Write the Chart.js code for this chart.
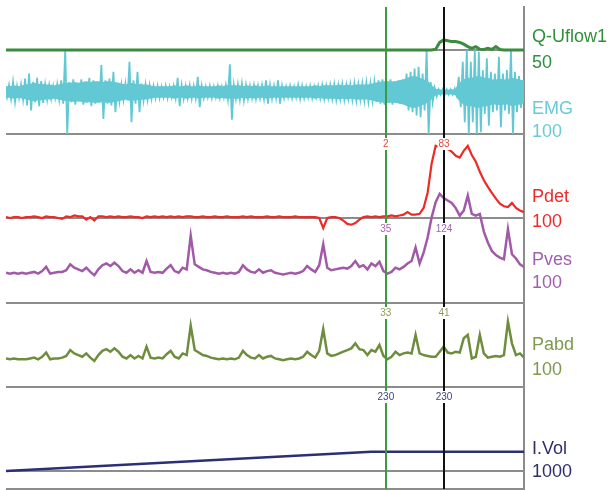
<!DOCTYPE html>
<html>
<head>
<meta charset="utf-8">
<script src="https://cdn.jsdelivr.net/npm/chart.js@4.4.1/dist/chart.umd.min.js"></script>
<style>
    html, body { margin: 0; padding: 0; background: #fff; }
    canvas { display: block; }
</style>
</head>
<body>
<canvas id="trace" width="610" height="490"></canvas>
<script>
// One sample every ~4 px across the trace (130 samples, index 0..129)
const flow = [
    0,0,0,0,0,0,0,0,0,0, 0,0,0,0,0,0,0,0,0,0, 0,0,0,0,0,0,0,0,0,0,
    0,0,0,0,0,0,0,0,0,0, 0,0,0,0,0,0,0,0,0,0, 0,0,0,0,0,0,0,0,0,0,
    0,0,0,0,0,0,0,0,0,0, 0,0,0,0,0,0,0,0,0,0, 0,0,0,0,0,0,0,0,0,0,
    0,0,0,0,0,0,0,0,0,0, 0,0,0,0,0,0,0,0.5,4.5,6,
    5.5,5,5,4.5,3.5,2,1,2,0.5,0.3, 1,0.3,2,0.3,0,0,0,0,0,0
];

// EMG: steady band half-height, and the spike height in each sample
const emgBand = [
    6,6,7,6,7,8,9,10,9,9, 8,8,7,8,9,10,10,11,10,11,
    12,11,12,12,11,12,12,11,10,9, 8,10,9,9,8,8,7,6,6,6,
    6,6,7,6,6,7,6,6,7,6, 6,6,6,7,6,7,7,7,7,6,
    7,6,7,6,6,7,6,6,6,6, 6,6,6,6,6,6,6,7,6,7,
    7,7,7,8,7,8,7,8,8,8, 8,9,10,11,12,12,12,12,13,14,
    16,18,18,16,14,12,7,3,2,2, 2,2,3,10,14,16,16,18,18,16,
    16,14,14,15,14,14,16,15,14,12
];
const emgAmp = [
    6,8,12,7,9,16,22,12,17,13, 9,8,7,9,14,50,12,15,11,15,
    12,17,14,12,32,14,16,24,11,9, 10,36,14,24,10,9,8,7,7,6,
    7,6,7,17,8,7,8,7,18,7, 6,7,6,7,6,8,33,8,9,10,
    8,7,8,7,8,14,8,7,14,7, 6,7,6,8,7,6,7,6,7,8,
    7,8,9,8,9,8,9,10,9,10, 11,10,12,14,15,13,15,12,14,15,
    22,24,28,30,22,50,12,5,3,3, 3,3,4,18,36,50,36,50,48,26,
    40,24,22,42,22,26,50,24,19,14
];

const pdet = [
    1,0,1,1,0,1,1,2,1,0, 2,1,1,0,-1,2,1,3,2,2,
    -2,1,-3,2,2,1,2,1,2,1, 1,2,1,1,0,2,1,2,1,2,
    1,2,1,2,1,2,2,1,1,2, 1,1,2,1,1,2,1,1,1,2,
    1,2,1,1,1,2,1,1,2,1, 1,1,2,1,1,1,1,1,0,-12,
    0,1,1,0,-3,-7,-8,-6,-2,1, 2,1,2,1,2,2,3,2,3,4,
    7,4,4,5,12,30,65,86,84,83, 82,79,74,72,80,86,75,67,55,45,
    37,30,23,17,14,13,18,12,9,7
];

const pves = [
    36,35,36,35,36,35,36,37,35,38, 43,35,36,37,37,39,46,42,40,38,
    42,37,33,40,45,47,44,48,44,38, 36,40,36,39,36,50,37,36,37,36,
    41,45,38,36,42,40,80,46,43,40, 39,37,36,35,36,35,36,35,37,45,
    40,37,36,40,36,38,39,36,35,34, 35,36,35,36,38,44,40,37,45,70,
    42,39,40,41,42,41,44,50,43,45, 40,47,44,49,38,35,37,42,40,43,
    47,50,66,47,60,78,102,120,130,125, 122,119,113,104,110,128,106,104,106,85,
    72,62,57,54,52,88,58,53,46,43
];

const pabd = [
    34,33,34,33,33,33,34,35,33,36, 41,33,34,34,35,37,44,40,38,36,
    40,35,31,38,43,45,42,46,42,36, 34,38,34,37,34,48,35,34,35,34,
    39,43,36,34,40,38,73,44,41,38, 37,35,34,33,34,33,34,33,35,43,
    38,35,34,38,34,36,37,34,33,32, 33,34,33,34,36,42,38,35,43,69,
    40,37,38,40,42,44,46,52,45,44, 38,44,42,50,37,33,36,42,38,40,
    41,40,62,40,38,37,36,36,42,48, 41,40,42,41,58,62,34,36,62,40,
    35,36,37,36,38,78,52,38,40,35
];

// Infused volume: straight fill then held
const volTimes  = [0, 91, 129];
const volValues = [0, 230, 230];

// Cursor positions (sample index) and the readouts printed at them
const cursorTimes = [94.6, 109.1];
const pdetAtCursor = ['2', '83'];
const pvesAtCursor = ['35', '124'];
const pabdAtCursor = ['33', '41'];
const volAtCursor  = ['230', '230'];

const channelNames  = ['Q-Uflow1', 'EMG', 'Pdet', 'Pves', 'Pabd', 'I.Vol'];
const channelRanges = ['50', '100', '100', '100', '100', '1000'];

const COLORS = {
    flow: '#3a8c3e',
    emg:  '#62c8d4',
    pdet: '#ee2a26',
    pves: '#a05aa8',
    pabd: '#6e8e3e',
    vol:  '#2b2f78',
    grid: '#8c8c8c'
};
const labelColors = ['#2f8f3a', '#6ccad6', '#ee2a2a', '#a062ad', '#7d9a4e', '#2d2f6b'];
const labelRows   = [[37, 63], [109, 132], [197, 222], [260, 283], [345, 370], [449, 472]];

const AREA_TOP = 7, AREA_BOTTOM = 489, PANEL = 84;

// each channel gets its own axis, placed so its zero sits at zeroPx
function channelAxis(zeroPx, fullScale, gridValues) {
    const perUnit = PANEL / fullScale;
    return {
        type: 'linear',
        position: 'left',
        min: -(AREA_BOTTOM - zeroPx) / perUnit,
        max: (zeroPx - AREA_TOP) / perUnit,
        ticks: { display: false },
        border: { display: false },
        grid: {
            display: gridValues.length > 0,
            drawTicks: false,
            color: COLORS.grid,
            lineWidth: 2
        },
        afterBuildTicks: s => { s.ticks = gridValues.map(v => ({ value: v })); }
    };
}

const toPoints = arr => arr.map((v, i) => ({ x: i, y: v }));

// EMG band: upper and lower envelope, filled between
const bandUpper = emgBand.map((a, i) => ({ x: i, y: a }));
const bandLower = emgBand.map((a, i) => ({ x: i, y: -a }));
// spikes: swing from +peak to -peak inside each sample
const emgSpikes = emgAmp.flatMap((a, i) => [
    { x: i - 0.25, y: a },
    { x: i + 0.25, y: -a }
]);

const line = (data, color, axis, width) => ({
    data,
    yAxisID: axis,
    borderColor: color,
    borderWidth: width || 2,
    pointRadius: 0,
    tension: 0,
    fill: false
});

const readoutPlugin = {
    id: 'readouts',
    afterDraw(chart) {
        const ctx = chart.ctx;
        const right = chart.chartArea.right;
        ctx.save();
        ctx.textBaseline = 'middle';

        ctx.font = '18px "Liberation Sans", Arial, sans-serif';
        ctx.textAlign = 'left';
        channelNames.forEach((name, k) => {
            ctx.fillStyle = labelColors[k];
            ctx.fillText(name, right + 8, labelRows[k][0]);
            ctx.fillText(channelRanges[k], right + 8, labelRows[k][1]);
        });

        ctx.font = '10px "Liberation Sans", Arial, sans-serif';
        ctx.textAlign = 'center';
        const rows = [
            [pdetAtCursor, 144, '#e8463f'],
            [pvesAtCursor, 229, '#a464b0'],
            [pabdAtCursor, 313, '#8a9c5a'],
            [volAtCursor, 397, '#3b3e8e']
        ];
        rows.forEach(([texts, y, color]) => {
            texts.forEach((t, k) => {
                const x = chart.scales.x.getPixelForValue(cursorTimes[k]);
                const w = ctx.measureText(t).width + 2;
                ctx.fillStyle = '#fff';
                ctx.fillRect(x - w / 2, y - 6, w, 12);
                ctx.fillStyle = color;
                ctx.fillText(t, x, y);
            });
        });
        ctx.restore();
    }
};

const xMax = flow.length - 1;
const cursorColors = ['#3e9a3e', '#111111'];

const emgTop = line(bandUpper, COLORS.emg, 'yEmg', 1.5);
emgTop.fill = '+1';
emgTop.backgroundColor = COLORS.emg;
const emgBottom = line(bandLower, COLORS.emg, 'yEmg', 1.5);

new Chart(document.getElementById('trace'), {
    type: 'line',
    data: {
        datasets: [
            line(toPoints(flow), COLORS.flow, 'yFlow', 3),
            line(emgSpikes, COLORS.emg, 'yEmg', 1.8),
            emgTop,
            emgBottom,
            line(toPoints(pdet), COLORS.pdet, 'yPdet', 2.2),
            line(toPoints(pves), COLORS.pves, 'yPves', 2.5),
            line(toPoints(pabd), COLORS.pabd, 'yPabd', 2.5),
            line(volTimes.map((t, i) => ({ x: t, y: volValues[i] })), COLORS.vol, 'yVol', 2.5)
        ]
    },
    options: {
        responsive: false,
        animation: false,
        layout: { padding: { left: 6, right: 86, top: AREA_TOP, bottom: 490 - AREA_BOTTOM } },
        plugins: { legend: { display: false }, tooltip: { enabled: false } },
        scales: {
            x: {
                type: 'linear',
                min: 0,
                max: xMax,
                ticks: { display: false },
                border: { display: false },
                grid: {
                    z: 1,
                    drawTicks: false,
                    lineWidth: 2,
                    color: c => cursorColors[c.index]
                },
                afterBuildTicks: s => {
                    s.ticks = cursorTimes.map(v => ({ value: v }));
                }
            },
            yFlow: channelAxis(50, 50, [0]),
            yEmg:  channelAxis(92, 100, []),
            yPdet: channelAxis(218, 100, [0, 100]),
            yPves: channelAxis(303, 100, [0]),
            yPabd: channelAxis(387, 100, [0]),
            yVol:  channelAxis(471, 1000, [0]),
            // right edge and bottom rule of the trace area
            yFrame: {
                type: 'linear',
                position: 'right',
                min: 0,
                max: 1,
                ticks: { display: false },
                border: { display: true, color: COLORS.grid, width: 2 },
                grid: { drawTicks: false, color: COLORS.grid, lineWidth: 2 },
                afterBuildTicks: s => { s.ticks = [{ value: 0 }]; }
            }
        }
    },
    plugins: [readoutPlugin]
});
</script>
</body>
</html>
